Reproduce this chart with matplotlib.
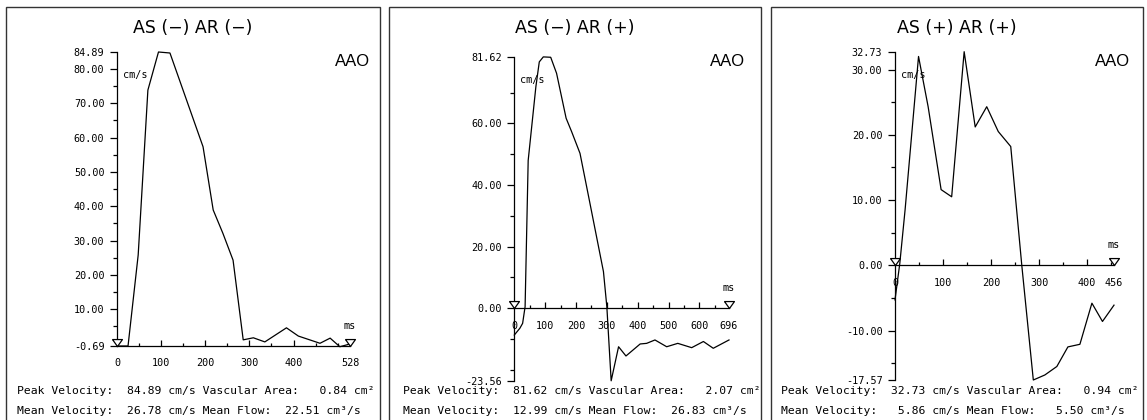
import matplotlib
matplotlib.use("Agg")
import matplotlib.pyplot as plt
from matplotlib.patches import Rectangle
from matplotlib.ticker import FixedLocator, FixedFormatter

W, H = 1147, 420

titles = ["AS (\u2212) AR (\u2212)", "AS (\u2212) AR (+)", "AS (+) AR (+)"]

# time (ms) / velocity (cm/s) traces
t1 = [0, 25, 48, 70, 94, 120, 195, 218, 240, 263, 286, 309, 335, 384, 411, 460, 483, 505, 528]
v1 = [-0.69, -0.69, 25.8, 73.8, 84.89, 84.6, 57.3, 38.9, 32.1, 24.3, 1.1, 1.7, 0.5, 4.6, 2.2, 0.1, 1.6, -0.9, -0.1]

t2 = [0, 18, 27, 35, 45, 70, 81, 94, 118, 137, 168, 186, 213, 243, 289, 300, 314, 338, 362, 408, 429,
      456, 494, 530, 575, 613, 645, 696]
v2 = [-8.7, -6.5, -4.9, 0.5, 48.0, 72.0, 80.0, 81.62, 81.5, 76.3, 61.7, 57.3, 50.3, 35.2, 11.9, 0.5,
      -23.56, -12.5, -15.5, -11.6, -11.4, -10.3, -12.5, -11.4, -12.8, -10.8, -13.0, -10.3]

t3 = [0, 10, 21, 49, 69, 96, 118, 144, 167, 191, 215, 241, 264, 288, 312, 337, 360, 385, 410, 432, 456]
v3 = [-5.3, 0.3, 8.5, 32.0, 24.3, 11.6, 10.5, 32.73, 21.2, 24.3, 20.5, 18.2, 0.0, -17.57, -16.8, -15.5,
      -12.5, -12.1, -5.8, -8.6, -6.1]

times = [t1, t2, t3]
vels = [v1, v2, v3]

t_end = [528, 696, 456]
y_min = [-0.69, -23.56, -17.57]
y_max = [84.89, 81.62, 32.73]
x_axis_at = [-0.69, 0.0, 0.0]

y_major = [[-0.69, 10, 20, 30, 40, 50, 60, 70, 80, 84.89],
           [-23.56, 0, 20, 40, 60, 81.62],
           [-17.57, -10, 0, 10, 20, 30, 32.73]]
y_minor = [[5, 15, 25, 35, 45, 55, 65, 75],
           [-20, -10, 10, 30, 50, 70],
           [-15, -5, 5, 15, 25]]
x_major = [[0, 100, 200, 300, 400, 528],
           [0, 100, 200, 300, 400, 500, 600, 696],
           [0, 100, 200, 300, 400, 456]]
x_minor = [[50, 150, 250, 350, 450, 500],
           [50, 150, 250, 350, 450, 550, 650],
           [50, 150, 250, 350, 450]]

peak_vel = [84.89, 81.62, 32.73]
vasc_area = [0.84, 2.07, 0.94]
mean_vel = [26.78, 12.99, 5.86]
mean_flow = [22.51, 26.83, 5.50]

# layout in pixels
borders = [(6, 380), (389, 761), (771, 1143)]
plot_boxes = [(117, 350, 52, 346), (514.3, 729, 56.9, 380.8), (895, 1114, 51.7, 380)]
aao_right = [370, 745, 1130]
text_left = [17, 403, 781]

mono = "DejaVu Sans Mono"
sans = "Liberation Sans"

fig = plt.figure(figsize=(W / 100, H / 100), dpi=100)

# open triangle marker with its apex at the data point
tri = [(-5, 7), (5, 7), (0, 0), (-5, 7)]

for i in range(3):
    bl, br = borders[i]
    fig.add_artist(Rectangle((bl / W, -0.02), (br - bl) / W, (H - 7) / H + 0.02,
                             transform=fig.transFigure, fill=False, lw=1.0, ec="#333333"))
    fig.text((bl + br) / 2 / W, 1 - 28 / H, titles[i], ha="center", va="center",
             fontsize=12.5, family="DejaVu Sans")
    fig.text(aao_right[i] / W, 1 - 62 / H, "AAO", ha="right", va="center",
             fontsize=12, family=sans)

    l, r, t, b = plot_boxes[i]
    ax = fig.add_axes([l / W, 1 - b / H, (r - l) / W, (b - t) / H])
    ax.set_xlim(0, t_end[i])
    ax.set_ylim(y_min[i], y_max[i])
    ax.patch.set_visible(False)

    ax.plot(times[i], vels[i], color="black", lw=0.9, clip_on=False, zorder=3)

    for s in ["top", "right"]:
        ax.spines[s].set_visible(False)
    ax.spines["left"].set_linewidth(0.9)
    ax.spines["bottom"].set_linewidth(0.9)
    ax.spines["bottom"].set_position(("data", x_axis_at[i]))

    ax.yaxis.set_major_locator(FixedLocator(y_major[i]))
    ax.yaxis.set_major_formatter(FixedFormatter(["%.2f" % v for v in y_major[i]]))
    ax.yaxis.set_minor_locator(FixedLocator(y_minor[i]))
    ax.xaxis.set_major_locator(FixedLocator(x_major[i]))
    ax.xaxis.set_major_formatter(FixedFormatter([str(v) for v in x_major[i]]))
    ax.xaxis.set_minor_locator(FixedLocator(x_minor[i]))

    ax.tick_params(axis="y", which="major", direction="out", length=5, width=0.9, pad=4,
                   labelsize=7.3)
    ax.tick_params(axis="y", which="minor", direction="out", length=3, width=0.9)
    ax.tick_params(axis="x", which="major", direction="in", length=4.5, width=0.9, pad=9,
                   labelsize=7.3)
    ax.tick_params(axis="x", which="minor", direction="in", length=2.5, width=0.9)
    for lab in ax.get_xticklabels() + ax.get_yticklabels():
        lab.set_family(mono)

    ax.plot([0, t_end[i]], [x_axis_at[i], x_axis_at[i]], linestyle="none", marker=tri,
            ms=10, mfc="white", mec="black", mew=0.9, clip_on=False, zorder=4)

    ax.annotate("ms", (t_end[i], x_axis_at[i]), xytext=(0, 14.5), textcoords="offset points",
                ha="center", va="center", fontsize=7.3, family=mono)
    ax.annotate("cm/s", (0, y_max[i]), xytext=(4, -16.5), textcoords="offset points",
                ha="left", va="center", fontsize=7.3, family=mono, zorder=2)

    line1 = "Peak Velocity: %6.2f cm/s Vascular Area: %6.2f cm\u00b2" % (peak_vel[i], vasc_area[i])
    line2 = "Mean Velocity: %6.2f cm/s Mean Flow: %6.2f cm\u00b3/s" % (mean_vel[i], mean_flow[i])
    fig.text(text_left[i] / W, 1 - 391 / H, line1, ha="left", va="center", fontsize=8.2, family=mono)
    fig.text(text_left[i] / W, 1 - 411 / H, line2, ha="left", va="center", fontsize=8.2, family=mono)

fig.savefig("out.png", dpi=100)
